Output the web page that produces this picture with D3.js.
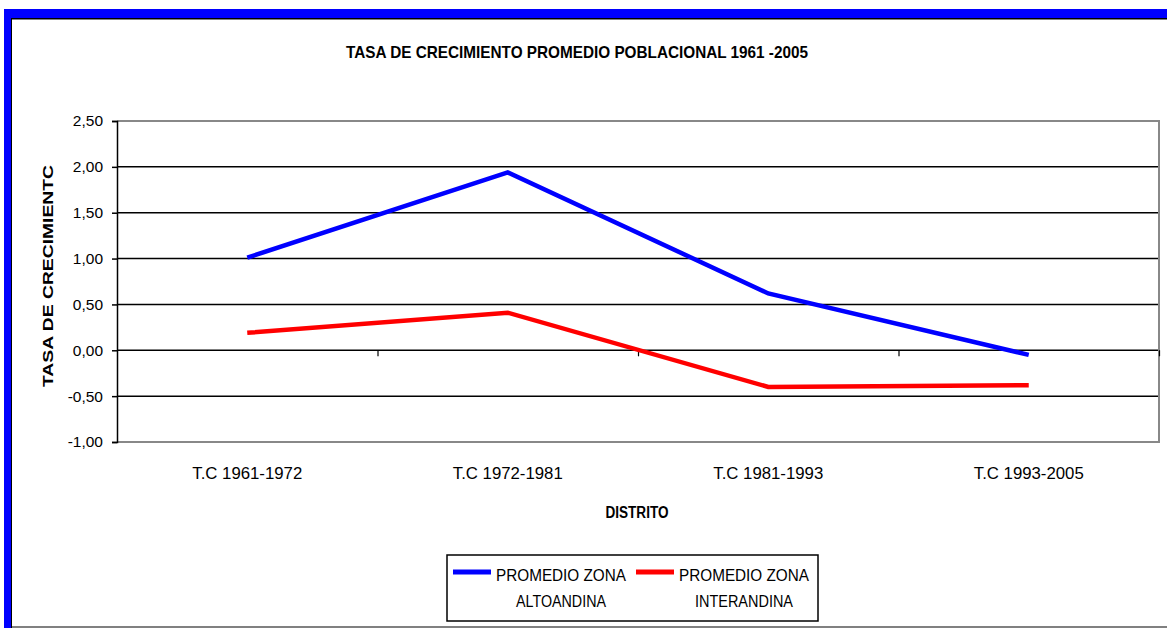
<!DOCTYPE html>
<html><head><meta charset="utf-8">
<script src="https://cdn.jsdelivr.net/npm/d3@7"></script>
<style>body{margin:0;background:#fff}svg{display:block;font-family:"Liberation Sans",Arial,sans-serif}</style>
</head><body><svg id="c" width="1167" height="628"></svg>
<script>
const categories = ["T.C 1961-1972","T.C 1972-1981","T.C 1981-1993","T.C 1993-2005"];
const altoandina = [1.01, 1.94, 0.62, -0.05];
const interandina = [0.19, 0.41, -0.40, -0.38];
const yTicks = [2.5, 2.0, 1.5, 1.0, 0.5, 0.0, -0.5, -1.0];
const yTickLabels = ["2,50","2,00","1,50","1,00","0,50","0,00","-0,50","-1,00"];
const seriesNames = [["PROMEDIO ZONA","ALTOANDINA"],["PROMEDIO ZONA","INTERANDINA"]];
const seriesColors = ["#0000ff","#ff0000"];
const title = "TASA DE CRECIMIENTO PROMEDIO POBLACIONAL 1961 -2005";
const yTitle = "TASA DE CRECIMIENTC";
const xTitle = "DISTRITO";

const svg = d3.select("#c");
// outer frame
svg.append("rect").attr("x",4).attr("y",9).attr("width",1163).attr("height",619).attr("fill","#0000ff");
svg.append("rect").attr("x",11).attr("y",18).attr("width",1156).attr("height",610).attr("fill","#000");
svg.append("rect").attr("x",12).attr("y",19).attr("width",1155).attr("height",609).attr("fill","#808080");
svg.append("rect").attr("x",12).attr("y",20).attr("width",1155).attr("height",606).attr("fill","#fff");

const L=117, R=1159, T=121, B=442;
const x = d3.scaleBand().domain(categories).range([L,R]);
const xb = d3.scaleLinear().domain([0,4]).range([L,R]);
const y = d3.scaleLinear().domain([-1,2.5]).range([B,T]);

// gridlines
svg.append("g").selectAll("line").data(yTicks.filter(v=>v>-1 && v<2.5)).join("line")
  .attr("x1",L).attr("x2",R).attr("y1",d=>y(d)).attr("y2",d=>y(d))
  .attr("stroke","#000").attr("stroke-width",1.5);
// plot border (gray)
svg.append("path").attr("d",`M${L},${T}H${R}V${B}H${L}`).attr("fill","none").attr("stroke","#888").attr("stroke-width",2);

// y axis
const ya = svg.append("g").attr("transform",`translate(${L},0)`)
  .call(d3.axisLeft(y).tickValues(yTicks).tickSize(5).tickPadding(9).tickFormat((d,i)=>yTickLabels[i]));
ya.select(".domain").attr("stroke","#000").attr("stroke-width",1.5);
ya.selectAll(".tick line").attr("stroke","#000").attr("stroke-width",1.5);
ya.selectAll("text").attr("font-size",15.5).attr("fill","#000").attr("font-family","Liberation Sans, Arial, sans-serif");

// x axis boundary ticks on zero line
const xa = svg.append("g").attr("transform",`translate(0,${y(0)})`)
  .call(d3.axisBottom(xb).tickValues([1,2,3,4]).tickSize(6).tickFormat(""));
xa.select(".domain").remove();
xa.selectAll(".tick line").attr("stroke","#000").attr("stroke-width",1.2);

// x labels
svg.append("g").selectAll("text").data(categories).join("text")
  .attr("x",d=>x(d)+x.bandwidth()/2).attr("y",479).attr("text-anchor","middle")
  .attr("font-size",16).attr("textLength",110).attr("lengthAdjust","spacingAndGlyphs").text(d=>d);

// lines
const line = d3.line().x((d,i)=>x(categories[i])+x.bandwidth()/2).y(d=>y(d));
[altoandina, interandina].forEach((s,i)=>{
  svg.append("path").datum(s).attr("d",line).attr("fill","none")
    .attr("stroke",seriesColors[i]).attr("stroke-width",4.5).attr("stroke-linejoin","miter");
});

// titles
svg.append("text").attr("x",577).attr("y",58).attr("text-anchor","middle").attr("font-weight","bold")
  .attr("font-size",17).attr("textLength",462).attr("lengthAdjust","spacingAndGlyphs").text(title);
svg.append("text").attr("x",637).attr("y",518).attr("text-anchor","middle").attr("font-weight","bold")
  .attr("font-size",16).attr("textLength",63).attr("lengthAdjust","spacingAndGlyphs").text(xTitle);
svg.append("text").attr("transform","translate(53,276) rotate(-90)").attr("text-anchor","middle")
  .attr("font-weight","bold").attr("font-size",14.5).attr("textLength",222).attr("lengthAdjust","spacingAndGlyphs").text(yTitle);

// legend
const lg = svg.append("g");
lg.append("rect").attr("x",447).attr("y",555).attr("width",371).attr("height",66).attr("fill","#fff").attr("stroke","#000").attr("stroke-width",1.5);
const lx = [453, 636];
const l2w = [90, 98];
seriesNames.forEach((n,i)=>{
  lg.append("line").attr("x1",lx[i]).attr("x2",lx[i]+38).attr("y1",572).attr("y2",572).attr("stroke",seriesColors[i]).attr("stroke-width",5);
  lg.append("text").attr("x",lx[i]+43).attr("y",581).attr("font-size",16).attr("textLength",130).attr("lengthAdjust","spacingAndGlyphs").text(n[0]);
  lg.append("text").attr("x",lx[i]+43+65).attr("y",607).attr("text-anchor","middle").attr("font-size",16)
    .attr("textLength",l2w[i]).attr("lengthAdjust","spacingAndGlyphs").text(n[1]);
});
</script></body></html>
